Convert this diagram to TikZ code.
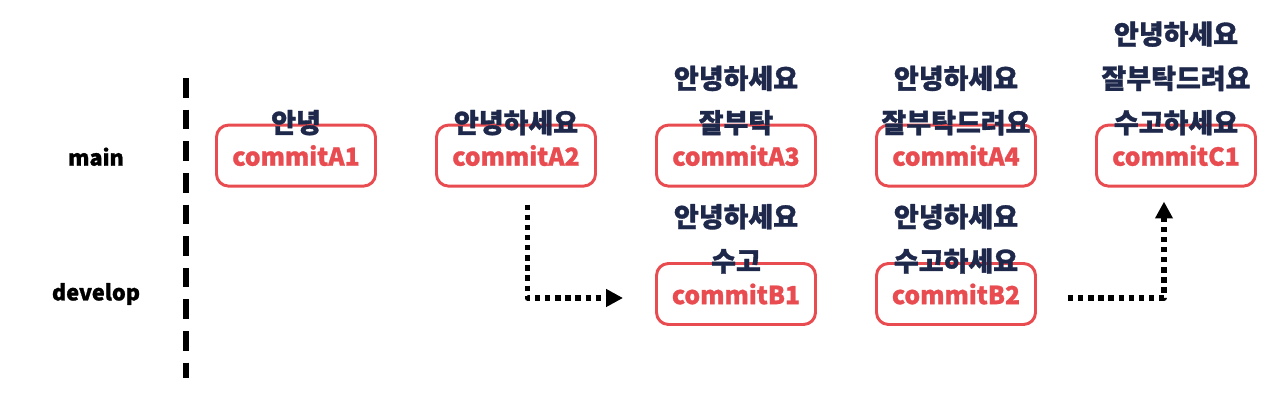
\documentclass[tikz,border=0pt]{standalone}
\usepackage{fontspec}
\setmainfont{Noto Sans CJK KR}[BoldFont={Noto Sans CJK KR Black},
    BoldFeatures={FakeBold=1.2}]
\usetikzlibrary{arrows.meta,positioning}

\definecolor{commitred}{RGB}{232,76,80}
\definecolor{msgnavy}{RGB}{30,40,75}

\begin{document}
\begin{tikzpicture}[>=Stealth, line cap=butt, line join=round,
    commit/.style={draw=commitred, line width=2.1pt, rounded corners=0.3cm,
        minimum width=3.975cm, minimum height=1.525cm, inner sep=0pt,
        text=commitred, font=\fontsize{17.6}{24}\selectfont\bfseries},
    branch/.style={font=\fontsize{15.4}{20}\selectfont\bfseries},
    msg/.style={text=msgnavy, align=center, inner sep=0pt,
        font=\fontsize{19.2}{31.5}\selectfont\bfseries},
    flow/.style={line width=3.8pt, dash pattern=on 3.8pt off 3.4pt,
        -{Triangle[length=12pt,width=12pt]}}]

    % ── Canvas (1280 x 401 px, 40 px per cm) ──────────────────────────────────
    \useasboundingbox (0,0) rectangle (32,-10.025);

    % ── Branch names and divider ──────────────────────────────────────────────
    \node[branch] (main) at (2.4,-3.92) {main};
    \node[branch] (develop) at (2.4,-7.35) {develop};
    \coordinate (top) at (4.65,-1.95);
    \coordinate (bottom) at (4.65,-9.45);
    \draw[line width=4pt, dash pattern=on 14pt off 8.5pt] (top) -- (bottom);

    % ── Commits on main ───────────────────────────────────────────────────────
    \node[commit] (A1) at (7.4,-3.89) {commitA1};
    \node[commit] (A2) at (12.9,-3.89) {commitA2};
    \node[commit] (A3) at (18.4,-3.89) {commitA3};
    \node[commit] (A4) at (23.9,-3.89) {commitA4};
    \node[commit] (C1) at (29.4,-3.89) {commitC1};

    % ── Commits on develop ────────────────────────────────────────────────────
    \node[commit] (B1) at (18.4,-7.35) {commitB1};
    \node[commit] (B2) at (23.9,-7.35) {commitB2};

    % ── File contents above each commit ───────────────────────────────────────
    \node[msg, above=-0.3cm of A1] (tA1) {안녕};
    \node[msg, above=-0.3cm of A2] (tA2) {안녕하세요};
    \node[msg, above=-0.3cm of A3] (tA3) {안녕하세요\\잘부탁};
    \node[msg, above=-0.3cm of A4] (tA4) {안녕하세요\\잘부탁드려요};
    \node[msg, above=-0.3cm of C1] (tC1) {안녕하세요\\잘부탁드려요\\수고하세요};
    \node[msg, above=-0.3cm of B1] (tB1) {안녕하세요\\수고};
    \node[msg, above=-0.3cm of B2] (tB2) {안녕하세요\\수고하세요};

    % ── Branch off and merge back ─────────────────────────────────────────────
    \draw[flow] ([xshift=0.28cm, yshift=-0.425cm]A2.south)
        |- ([xshift=-0.8cm, yshift=-0.1cm]B1.west);
    \draw[flow] ([xshift=0.775cm, yshift=-0.1cm]B2.east)
        -| ([xshift=-0.3cm, yshift=-0.35cm]C1.south);

\end{tikzpicture}
\end{document}
